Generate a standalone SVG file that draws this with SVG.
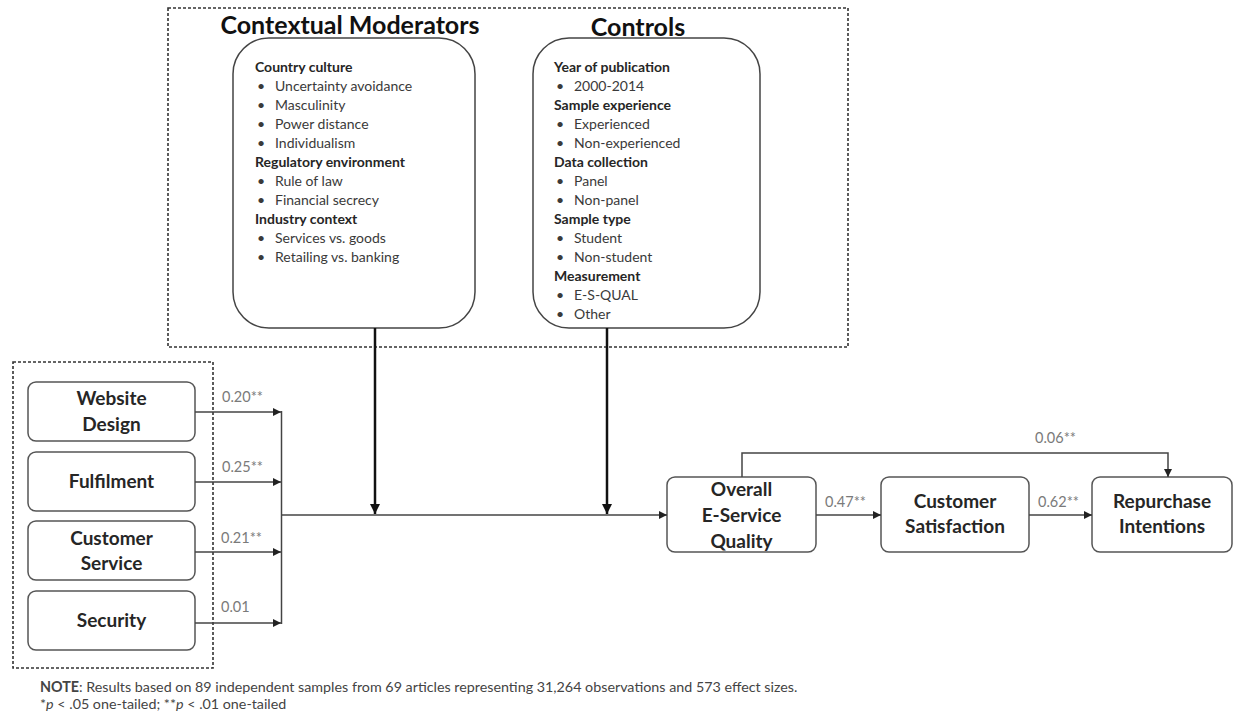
<svg xmlns="http://www.w3.org/2000/svg" width="1235" height="714" viewBox="0 0 1235 714">
<defs>
<style>
.dash{fill:none;stroke:#333;stroke-width:1.6;stroke-dasharray:3 2}
.mod{fill:#fff;stroke:#444;stroke-width:1.5}
.node{fill:#fff;stroke:#555;stroke-width:1.5}
.title{font-family:Lato,"Liberation Sans",sans-serif;font-weight:bold;font-size:25px;fill:#111;text-anchor:middle}
.hd{font-family:Lato,"Liberation Sans",sans-serif;font-weight:bold;font-size:14px;fill:#262626}
.it{font-family:Lato,"Liberation Sans",sans-serif;font-size:14px;fill:#3a3a3a}
.lbl{font-family:Lato,"Liberation Sans",sans-serif;font-weight:bold;font-size:19px;fill:#262626;text-anchor:middle}
.el{font-family:Lato,"Liberation Sans",sans-serif;font-size:14.5px;fill:#7a7a7a}
.note{font-family:Lato,"Liberation Sans",sans-serif;font-size:14.3px;fill:#444}
.conn{fill:none;stroke:#444;stroke-width:1.5}
.thick{fill:none;stroke:#111;stroke-width:2.5}
</style>
<marker id="ah" viewBox="0 0 10 10" refX="10" refY="5" markerWidth="8" markerHeight="8" markerUnits="userSpaceOnUse" orient="auto"><path d="M0,0 L10,5 L0,10 z" fill="#222"/></marker>
<marker id="ahb" viewBox="0 0 10 10" refX="10" refY="5" markerWidth="10" markerHeight="10" markerUnits="userSpaceOnUse" orient="auto"><path d="M0,0 L10,5 L0,10 z" fill="#111"/></marker>
</defs>
<rect width="1235" height="714" fill="#fff"/>

<rect class="dash" x="168" y="8" width="680" height="339"/>
<rect class="dash" x="13" y="362" width="200" height="306"/>

<g id="moderators">
<text class="title" x="350" y="34">Contextual Moderators</text>
<rect class="mod" x="233" y="38" width="242" height="290" rx="36" ry="36"/>
<text class="hd" x="255" y="72">Country culture</text>
<text class="it" x="257" y="91">•</text><text class="it" x="275" y="91">Uncertainty avoidance</text>
<text class="it" x="257" y="110">•</text><text class="it" x="275" y="110">Masculinity</text>
<text class="it" x="257" y="129">•</text><text class="it" x="275" y="129">Power distance</text>
<text class="it" x="257" y="148">•</text><text class="it" x="275" y="148">Individualism</text>
<text class="hd" x="255" y="167">Regulatory environment</text>
<text class="it" x="257" y="186">•</text><text class="it" x="275" y="186">Rule of law</text>
<text class="it" x="257" y="205">•</text><text class="it" x="275" y="205">Financial secrecy</text>
<text class="hd" x="255" y="224">Industry context</text>
<text class="it" x="257" y="243">•</text><text class="it" x="275" y="243">Services vs. goods</text>
<text class="it" x="257" y="262">•</text><text class="it" x="275" y="262">Retailing vs. banking</text>
</g>

<g id="controls">
<text class="title" x="638" y="36">Controls</text>
<rect class="mod" x="533" y="38" width="227" height="290" rx="36" ry="36"/>
<text class="hd" x="554" y="72">Year of publication</text>
<text class="it" x="556" y="91">•</text><text class="it" x="574" y="91">2000-2014</text>
<text class="hd" x="554" y="110">Sample experience</text>
<text class="it" x="556" y="129">•</text><text class="it" x="574" y="129">Experienced</text>
<text class="it" x="556" y="148">•</text><text class="it" x="574" y="148">Non-experienced</text>
<text class="hd" x="554" y="167">Data collection</text>
<text class="it" x="556" y="186">•</text><text class="it" x="574" y="186">Panel</text>
<text class="it" x="556" y="205">•</text><text class="it" x="574" y="205">Non-panel</text>
<text class="hd" x="554" y="224">Sample type</text>
<text class="it" x="556" y="243">•</text><text class="it" x="574" y="243">Student</text>
<text class="it" x="556" y="262">•</text><text class="it" x="574" y="262">Non-student</text>
<text class="hd" x="554" y="281">Measurement</text>
<text class="it" x="556" y="300">•</text><text class="it" x="574" y="300">E-S-QUAL</text>
<text class="it" x="556" y="319">•</text><text class="it" x="574" y="319">Other</text>
</g>

<g id="website-design">
<rect class="node" x="28" y="382" width="167" height="59" rx="8"/>
<text class="lbl" x="111.5" y="405">Website</text>
<text class="lbl" x="111.5" y="431">Design</text>
</g>
<g id="fulfilment">
<rect class="node" x="28" y="452" width="167" height="59" rx="8"/>
<text class="lbl" x="111.5" y="488">Fulfilment</text>
</g>
<g id="customer-service">
<rect class="node" x="28" y="521" width="167" height="59" rx="8"/>
<text class="lbl" x="111.5" y="545">Customer</text>
<text class="lbl" x="111.5" y="570">Service</text>
</g>
<g id="security">
<rect class="node" x="28" y="591" width="167" height="59" rx="8"/>
<text class="lbl" x="111.5" y="627">Security</text>
</g>

<g id="overall-quality">
<rect class="node" x="667" y="477" width="149" height="75" rx="8"/>
<text class="lbl" x="741.5" y="496">Overall</text>
<text class="lbl" x="741.5" y="522">E-Service</text>
<text class="lbl" x="741.5" y="548">Quality</text>
</g>
<g id="customer-satisfaction">
<rect class="node" x="881" y="477" width="148" height="75" rx="8"/>
<text class="lbl" x="955" y="508">Customer</text>
<text class="lbl" x="955" y="533">Satisfaction</text>
</g>
<g id="repurchase-intentions">
<rect class="node" x="1092" y="477" width="140" height="75" rx="8"/>
<text class="lbl" x="1162" y="508">Repurchase</text>
<text class="lbl" x="1162" y="533">Intentions</text>
</g>

<g id="connectors">
<line class="conn" x1="195" y1="412" x2="281" y2="412" marker-end="url(#ah)"/>
<line class="conn" x1="195" y1="482" x2="281" y2="482" marker-end="url(#ah)"/>
<line class="conn" x1="195" y1="552" x2="281" y2="552" marker-end="url(#ah)"/>
<line class="conn" x1="195" y1="623" x2="281" y2="623" marker-end="url(#ah)"/>
<line class="conn" x1="281.5" y1="411" x2="281.5" y2="624"/>
<line class="conn" x1="281" y1="515" x2="667" y2="515" marker-end="url(#ah)"/>
<line class="thick" x1="375" y1="328" x2="375" y2="514" marker-end="url(#ahb)"/>
<line class="thick" x1="607" y1="328" x2="607" y2="514" marker-end="url(#ahb)"/>
<line class="conn" x1="816" y1="515" x2="881" y2="515" marker-end="url(#ah)"/>
<line class="conn" x1="1029" y1="515" x2="1092" y2="515" marker-end="url(#ah)"/>
<path class="conn" d="M742,477 V453 H1168 V477" marker-end="url(#ah)"/>
<text class="el" x="222" y="402">0.20**</text>
<text class="el" x="222" y="472">0.25**</text>
<text class="el" x="221" y="543">0.21**</text>
<text class="el" x="221" y="612">0.01</text>
<text class="el" x="825" y="507">0.47**</text>
<text class="el" x="1038" y="507">0.62**</text>
<text class="el" x="1035" y="443">0.06**</text>
</g>

<text class="note" x="40" y="692"><tspan font-weight="bold">NOTE</tspan>: Results based on 89 independent samples from 69 articles representing 31,264 observations and 573 effect sizes.</text>
<text class="note" x="40" y="709">*<tspan font-style="italic">p</tspan> &lt; .05 one-tailed; **<tspan font-style="italic">p</tspan> &lt; .01 one-tailed</text>
</svg>
